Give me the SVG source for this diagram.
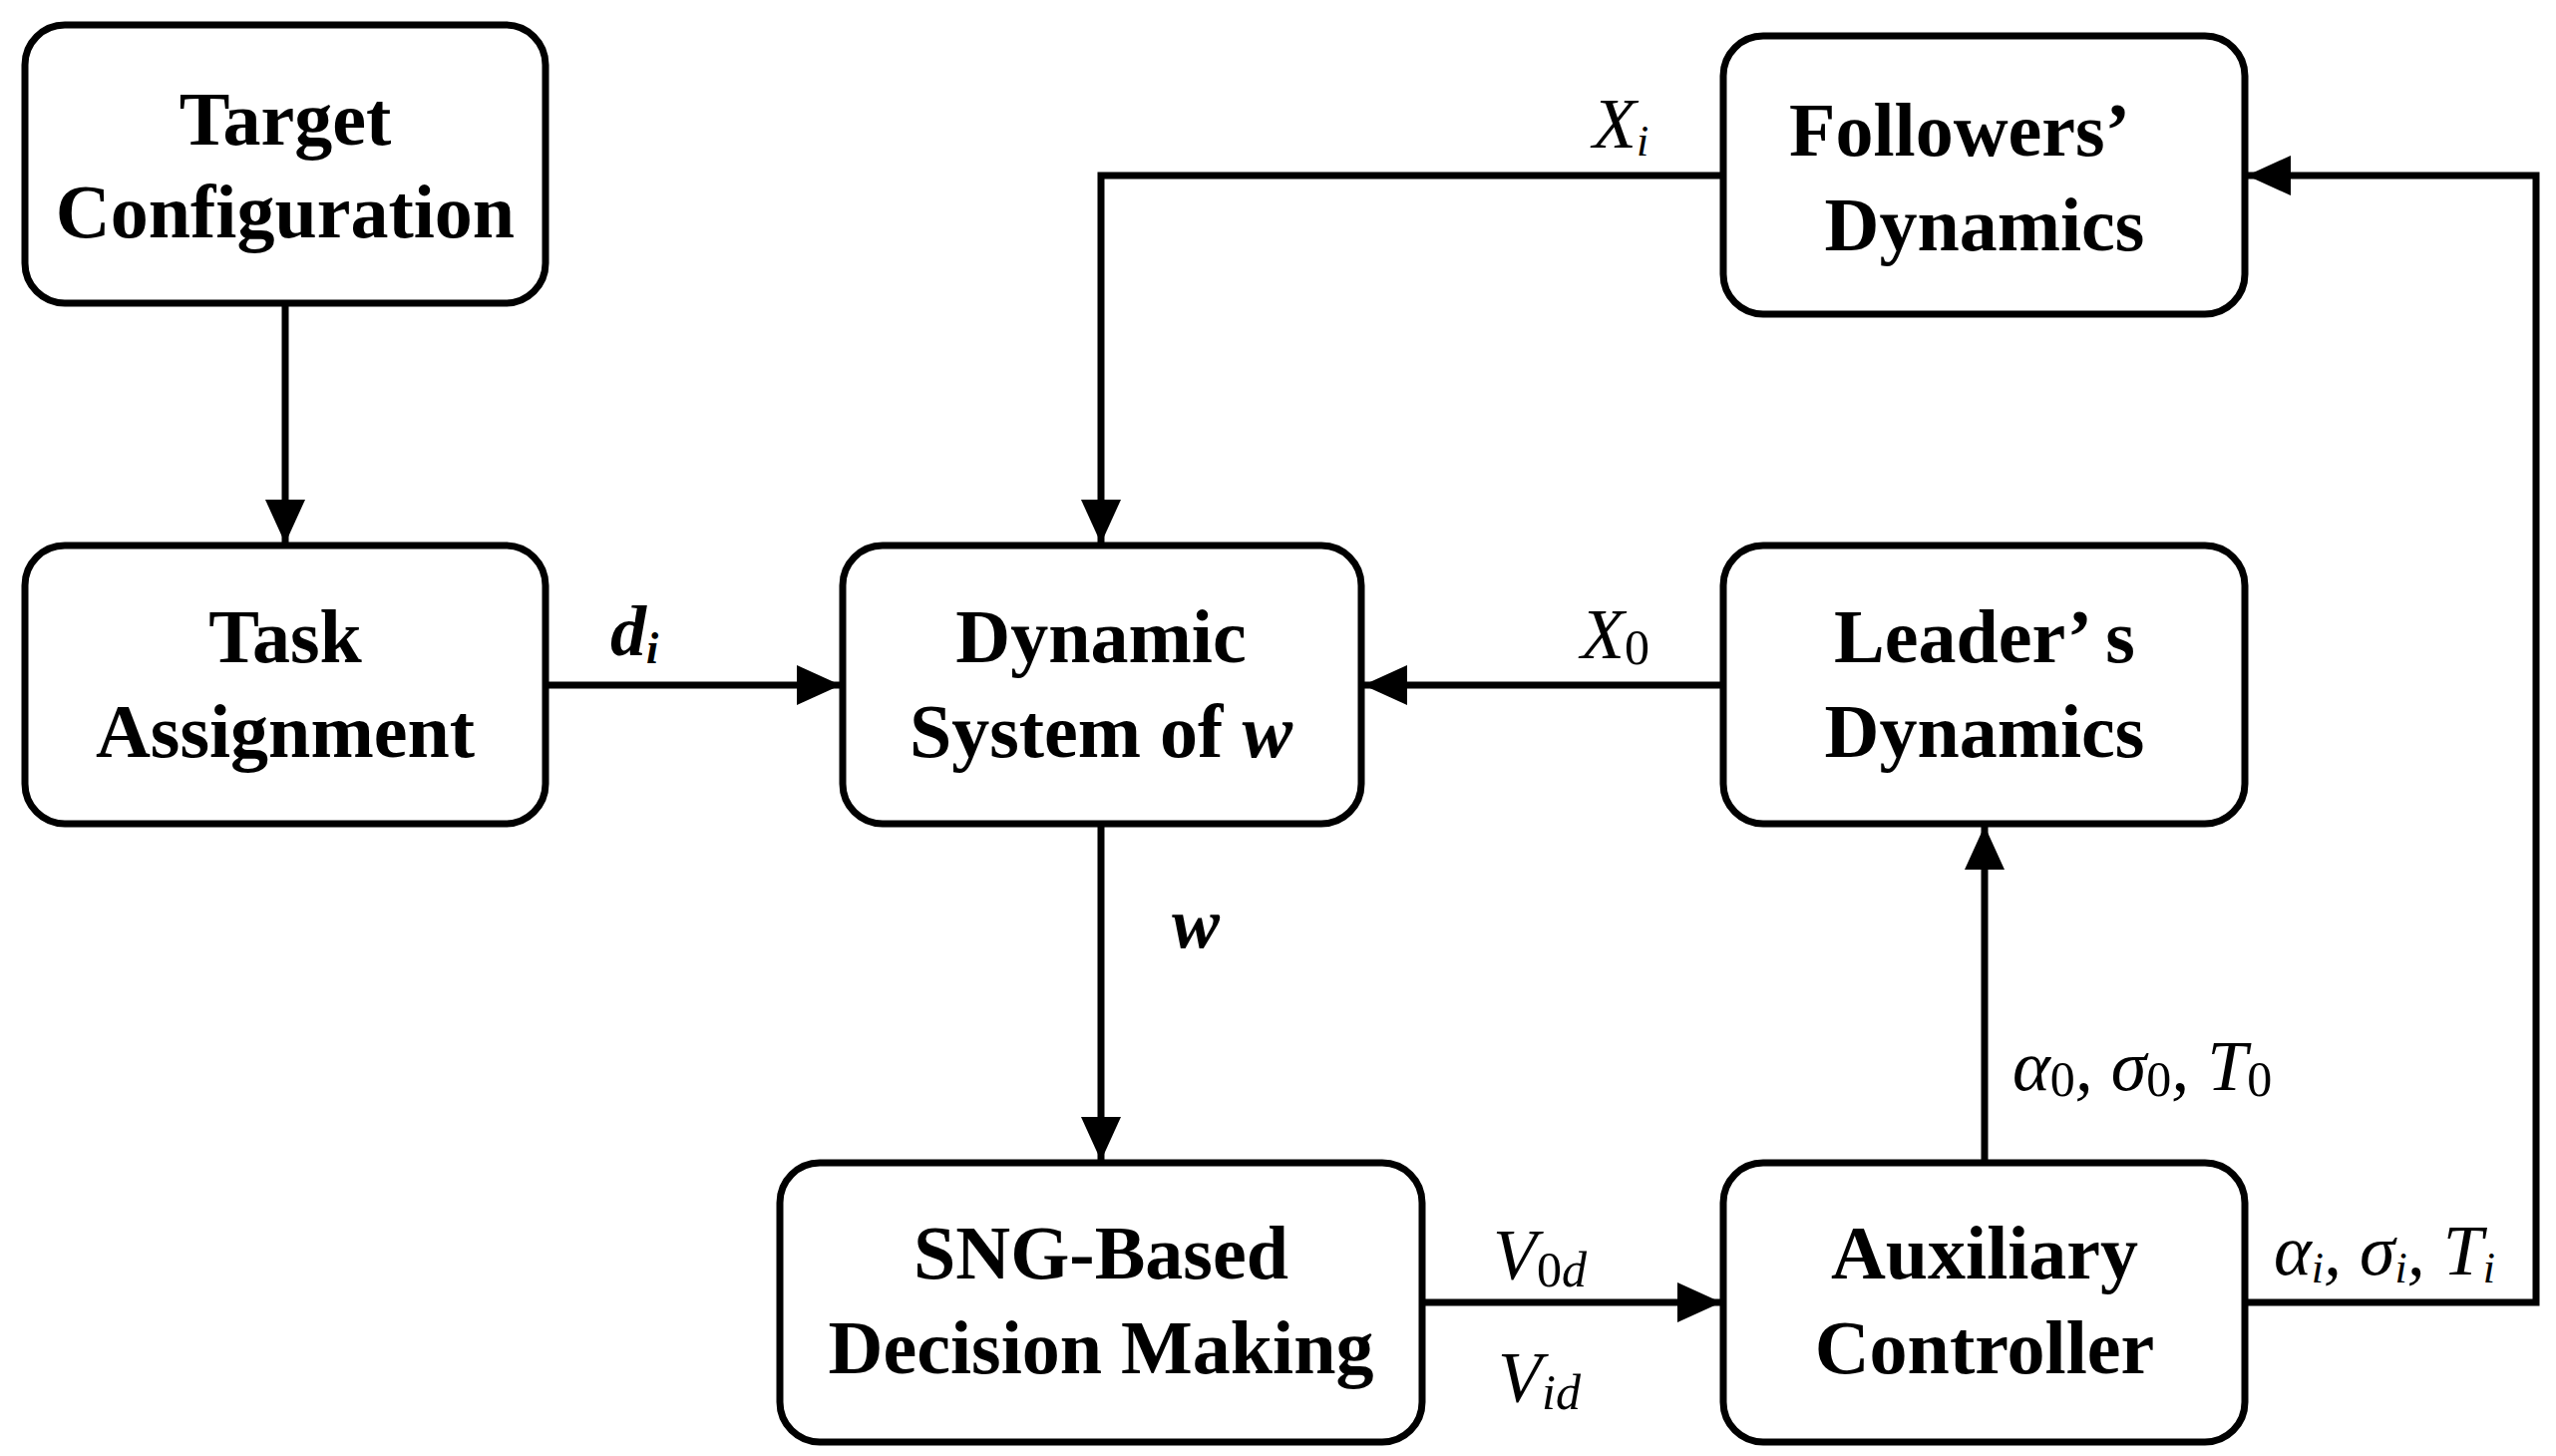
<svg xmlns="http://www.w3.org/2000/svg" width="2563" height="1460" viewBox="0 0 2563 1460">
<style>
.box{fill:#fff;stroke:#000;stroke-width:7}
.t{font-family:"Liberation Serif",serif;font-weight:bold;font-size:76px;text-anchor:middle}
.l{font-family:"Liberation Serif",serif;font-style:italic;font-size:72px}
.c{fill:none;stroke:#000;stroke-width:7}
</style>
<defs><marker id="a" markerUnits="userSpaceOnUse" markerWidth="46" markerHeight="40" refX="44" refY="20" orient="auto"><path d="M0,0 L44,20 L0,40Z"/></marker></defs>
<rect width="2563" height="1460" fill="#fff"/>
<g id="connectors">
<path class="c" d="M286,304 V545" marker-end="url(#a)"/>
<path class="c" d="M547,687 H843" marker-end="url(#a)"/>
<path class="c" d="M1728,687 H1367" marker-end="url(#a)"/>
<path class="c" d="M1728,176 H1104 V545" marker-end="url(#a)"/>
<path class="c" d="M1104,826 V1164" marker-end="url(#a)"/>
<path class="c" d="M1426,1306 H1726" marker-end="url(#a)"/>
<path class="c" d="M1990,1166 V828" marker-end="url(#a)"/>
<path class="c" d="M2251,1306 H2543 V176 H2253" marker-end="url(#a)"/>
<text class="l" x="1597" y="148">X<tspan font-size="44" dy="8">i</tspan></text>
<text class="l" x="612" y="657" font-weight="bold">d<tspan font-size="44" dy="8">i</tspan></text>
<text class="l" x="1585" y="660">X<tspan font-size="50" dy="6" font-style="normal">0</tspan></text>
<text class="l" x="1175" y="950" font-weight="bold">w</text>
<text class="l" x="2018" y="1093">α<tspan font-size="50" dy="6" font-style="normal">0</tspan><tspan dy="-6">, σ</tspan><tspan font-size="50" dy="6" font-style="normal">0</tspan><tspan dy="-6">, T</tspan><tspan font-size="50" dy="6" font-style="normal">0</tspan></text>
<text class="l" x="1497" y="1282">V<tspan font-size="50" dy="8"><tspan font-style="normal">0</tspan>d</tspan></text>
<text class="l" x="1502" y="1405">V<tspan font-size="50" dy="8">id</tspan></text>
<text class="l" x="2280" y="1278">α<tspan font-size="44" dy="8">i</tspan><tspan dy="-8">, σ</tspan><tspan font-size="44" dy="8">i</tspan><tspan dy="-8">, T</tspan><tspan font-size="44" dy="8">i</tspan></text>
</g>
<g id="target"><rect class="box" x="25" y="25" width="522" height="279" rx="40"/><text class="t" x="286" y="145">Target</text><text class="t" x="286" y="238">Configuration</text></g>
<g id="task"><rect class="box" x="25" y="547" width="522" height="279" rx="40"/><text class="t" x="286" y="664">Task</text><text class="t" x="286" y="759">Assignment</text></g>
<g id="dynamic"><rect class="box" x="845" y="547" width="520" height="279" rx="40"/><text class="t" x="1104" y="664">Dynamic</text><text class="t" x="1104" y="759">System of <tspan font-style="italic">w</tspan></text></g>
<g id="followers"><rect class="box" x="1728" y="36" width="523" height="279" rx="40"/><text class="t" x="1965" y="156">Followers’</text><text class="t" x="1990" y="251">Dynamics</text></g>
<g id="leader"><rect class="box" x="1728" y="547" width="523" height="279" rx="40"/><text class="t" x="1990" y="664">Leader’ s</text><text class="t" x="1990" y="759">Dynamics</text></g>
<g id="sng"><rect class="box" x="782" y="1166" width="644" height="280" rx="40"/><text class="t" x="1104" y="1282">SNG-Based</text><text class="t" x="1104" y="1377">Decision Making</text></g>
<g id="aux"><rect class="box" x="1728" y="1166" width="523" height="280" rx="40"/><text class="t" x="1990" y="1282">Auxiliary</text><text class="t" x="1990" y="1377">Controller</text></g>
</svg>
